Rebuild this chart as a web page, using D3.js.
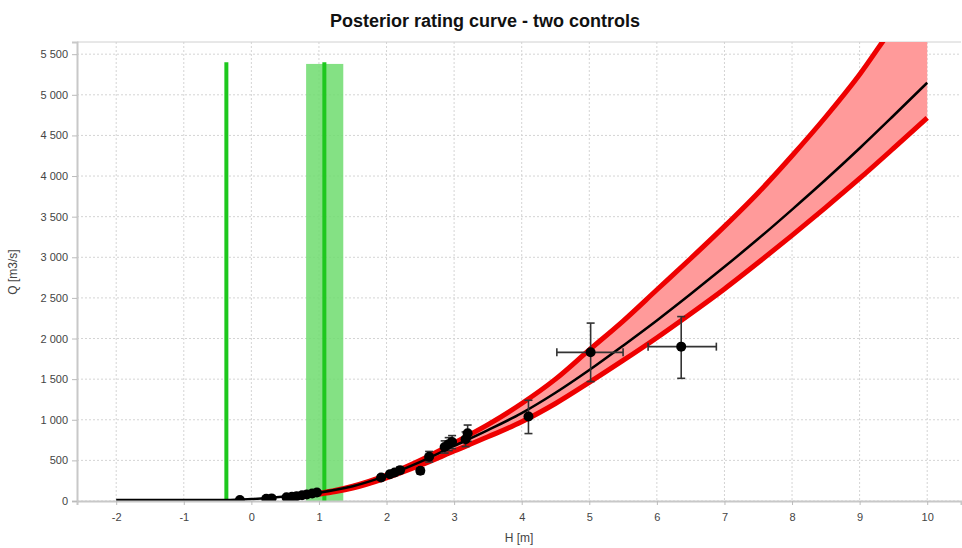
<!DOCTYPE html>
<html>
<head>
<meta charset="utf-8">
<script src="https://cdn.jsdelivr.net/npm/d3@7"></script>
<style>
  html, body { margin: 0; padding: 0; background: #fff; }
  svg { display: block; font-family: "Liberation Sans", Arial, sans-serif; }
</style>
</head>
<body>
<svg id="chart" width="962" height="548"></svg>
<script>
// ---- Data ----
const titleText = "Posterior rating curve - two controls";
const xLabel = "H [m]";
const yLabel = "Q [m3/s]";

const xTicks = [-2, -1, 0, 1, 2, 3, 4, 5, 6, 7, 8, 9, 10];
const yTicks = [0, 500, 1000, 1500, 2000, 2500, 3000, 3500, 4000, 4500, 5000, 5500];

// Maxpost rating curve (stage H, discharge Q)
const hGrid     = [-2, -0.37, 0, 0.25, 0.5, 0.75, 1, 1.25, 1.5, 2, 2.5, 3, 3.5, 4, 4.5, 5, 5.5, 6, 6.5, 7, 7.5, 8, 8.5, 9, 9.5, 10];
const qMaxpost  = [0, 0, 12, 25, 42, 62, 90, 125, 170, 300, 470, 665, 860, 1070, 1320, 1600, 1900, 2210, 2535, 2870, 3215, 3575, 3945, 4330, 4730, 5136];
// 95% band (from H = 1 upward)
const hBand     = [1, 1.25, 1.5, 2, 2.5, 3, 3.5, 4, 4.5, 5, 5.5, 6, 6.5, 7, 7.5, 8, 8.5, 9, 9.5, 10];
const qLower    = [84, 116, 158, 284, 440, 615, 790, 975, 1200, 1460, 1730, 2010, 2305, 2610, 2935, 3270, 3615, 3970, 4340, 4716];
const qUpper    = [96, 134, 182, 318, 500, 715, 940, 1200, 1500, 1860, 2215, 2600, 2985, 3380, 3795, 4250, 4730, 5250, 5840, 6370];

// Gaugings
const obsH     = [-0.17, 0.22, 0.30, 0.52, 0.60, 0.67, 0.75, 0.82, 0.90, 0.97, 1.92, 2.05, 2.12, 2.20, 2.50, 2.63, 2.86, 2.92, 2.97, 3.17, 3.20, 4.10, 5.02, 6.36];
const obsQ     = [12, 28, 32, 45, 52, 60, 70, 80, 92, 105, 290, 330, 350, 380, 372, 545, 665, 700, 725, 760, 835, 1040, 1830, 1900];
const obsQLow  = [10, 24, 28, 40, 46, 53, 62, 71, 82, 94, 262, 298, 316, 344, 335, 480, 590, 620, 645, 670, 735, 830, 1470, 1510];
const obsQHigh = [14, 32, 36, 50, 58, 67, 78, 89, 102, 116, 318, 362, 384, 416, 409, 610, 740, 780, 805, 850, 935, 1240, 2190, 2270];
const obsHLow  = [-0.19, 0.20, 0.28, 0.50, 0.58, 0.65, 0.73, 0.80, 0.88, 0.95, 1.90, 2.03, 2.10, 2.18, 2.48, 2.61, 2.84, 2.90, 2.95, 3.15, 3.18, 4.07, 4.52, 5.87];
const obsHHigh = [-0.15, 0.24, 0.32, 0.54, 0.62, 0.69, 0.77, 0.84, 0.92, 0.99, 1.94, 2.07, 2.14, 2.22, 2.52, 2.65, 2.88, 2.94, 2.99, 3.19, 3.22, 4.13, 5.50, 6.88];

// Controls (activation stage)
const controlH     = [-0.37, 1.08];
const controlTopQ  = [5400, 5400];
const control2Band = [0.81, 1.36];
const control2BandTop = 5380;

// ---- Layout ----
const svg = d3.select("#chart");
const W = 962, H = 548;
const m = { left: 77, right: 1, top: 42, bottom: 47 };
const pw = W - m.left - m.right, ph = H - m.top - m.bottom;

const x = d3.scaleLinear().domain([-2.58, 10.5]).range([m.left, m.left + pw]);
const y = d3.scaleLinear().domain([0, 5650]).range([m.top + ph, m.top]);

// Title
svg.append("text").attr("x", 485).attr("y", 27).attr("text-anchor", "middle")
  .attr("font-size", 18).attr("font-weight", "bold").attr("fill", "#111").text(titleText);

// Clip
svg.append("defs").append("clipPath").attr("id", "plotclip")
  .append("rect").attr("x", m.left).attr("y", m.top).attr("width", pw).attr("height", ph);

// Grid
const grid = svg.append("g");
grid.selectAll(".vg").data(xTicks).join("line")
  .attr("x1", d => x(d)).attr("x2", d => x(d)).attr("y1", m.top).attr("y2", m.top + ph)
  .attr("stroke", "#d4d4d4").attr("stroke-width", 1).attr("stroke-dasharray", "2,2");
grid.selectAll(".hg").data(yTicks).join("line")
  .attr("x1", m.left).attr("x2", m.left + pw).attr("y1", d => y(d)).attr("y2", d => y(d))
  .attr("stroke", "#d4d4d4").attr("stroke-width", 1).attr("stroke-dasharray", "2,2");

// Top border
svg.append("line").attr("x1", m.left).attr("x2", m.left + pw).attr("y1", m.top).attr("y2", m.top)
  .attr("stroke", "#d0d0d0").attr("stroke-width", 1);

const plot = svg.append("g").attr("clip-path", "url(#plotclip)");

// Green controls
plot.append("rect")
  .attr("x", x(control2Band[0])).attr("width", x(control2Band[1]) - x(control2Band[0]))
  .attr("y", y(control2BandTop)).attr("height", y(0) - y(control2BandTop))
  .attr("fill", "#6fdc6f").attr("opacity", 0.85);
plot.selectAll(".ctl").data(controlH).join("line")
  .attr("x1", d => x(d)).attr("x2", d => x(d))
  .attr("y1", (d, i) => y(controlTopQ[i])).attr("y2", y(0))
  .attr("stroke", "#1ec81e").attr("stroke-width", 4);

// Band
const bpts = hBand.map((h, i) => ({ h, lo: qLower[i], up: qUpper[i] }));
plot.append("path").datum(bpts)
  .attr("d", d3.area().x(d => x(d.h)).y0(d => y(d.lo)).y1(d => y(d.up)).curve(d3.curveMonotoneX))
  .attr("fill", "#ff9a9a");
plot.append("path").datum(bpts)
  .attr("d", d3.line().x(d => x(d.h)).y(d => y(d.up)).curve(d3.curveMonotoneX))
  .attr("fill", "none").attr("stroke", "#ee0000").attr("stroke-width", 5);
plot.append("path").datum(bpts)
  .attr("d", d3.line().x(d => x(d.h)).y(d => y(d.lo)).curve(d3.curveMonotoneX))
  .attr("fill", "none").attr("stroke", "#ee0000").attr("stroke-width", 5);

// Maxpost
const mpts = hGrid.map((h, i) => ({ h, mp: qMaxpost[i] }));
plot.append("path").datum(mpts)
  .attr("d", d3.line().x(d => x(d.h)).y(d => y(d.mp) - 1).curve(d3.curveMonotoneX))
  .attr("fill", "none").attr("stroke", "#000").attr("stroke-width", 2.5);

// Gaugings with error bars
const obs = obsH.map((h, i) => ({ h, q: obsQ[i], ql: obsQLow[i], qh: obsQHigh[i], hl: obsHLow[i], hh: obsHHigh[i] }));
const eb = plot.append("g").attr("stroke", "#333").attr("stroke-width", 1.6);
const cap = 4;
obs.forEach(d => {
  eb.append("line").attr("x1", x(d.h)).attr("x2", x(d.h)).attr("y1", y(d.ql)).attr("y2", y(d.qh));
  eb.append("line").attr("x1", x(d.h) - cap).attr("x2", x(d.h) + cap).attr("y1", y(d.ql)).attr("y2", y(d.ql));
  eb.append("line").attr("x1", x(d.h) - cap).attr("x2", x(d.h) + cap).attr("y1", y(d.qh)).attr("y2", y(d.qh));
  eb.append("line").attr("x1", x(d.hl)).attr("x2", x(d.hh)).attr("y1", y(d.q)).attr("y2", y(d.q));
  eb.append("line").attr("x1", x(d.hl)).attr("x2", x(d.hl)).attr("y1", y(d.q) - cap).attr("y2", y(d.q) + cap);
  eb.append("line").attr("x1", x(d.hh)).attr("x2", x(d.hh)).attr("y1", y(d.q) - cap).attr("y2", y(d.q) + cap);
});
plot.selectAll(".pt").data(obs).join("circle")
  .attr("cx", d => x(d.h)).attr("cy", d => y(d.q)).attr("r", 5).attr("fill", "#000");

// Axes
const xAxis = svg.append("g").attr("transform", `translate(0,${m.top + ph})`)
  .call(d3.axisBottom(x).tickValues(xTicks).tickSize(4).tickPadding(8).tickFormat(d => String(d)));
const yAxis = svg.append("g").attr("transform", `translate(${m.left},0)`)
  .call(d3.axisLeft(y).tickValues(yTicks).tickSize(5).tickPadding(4).tickFormat(d => d3.format(",")(d).replace(/,/g, " ")));
[xAxis, yAxis].forEach(a => {
  a.select(".domain").attr("stroke", "#c8c8c8").attr("stroke-width", 2);
  a.selectAll(".tick line").attr("stroke", "#bbb");
  a.selectAll(".tick text").attr("fill", "#444").attr("font-size", 11)
    .attr("font-family", "'Liberation Sans', Arial, sans-serif");
});

// Axis labels
svg.append("text").attr("x", m.left + pw / 2).attr("y", 542).attr("text-anchor", "middle")
  .attr("font-size", 12).attr("fill", "#444").text(xLabel);
svg.append("text").attr("transform", `translate(17,${272}) rotate(-90)`).attr("text-anchor", "middle")
  .attr("font-size", 12).attr("fill", "#444").text(yLabel);
</script>
</body>
</html>
